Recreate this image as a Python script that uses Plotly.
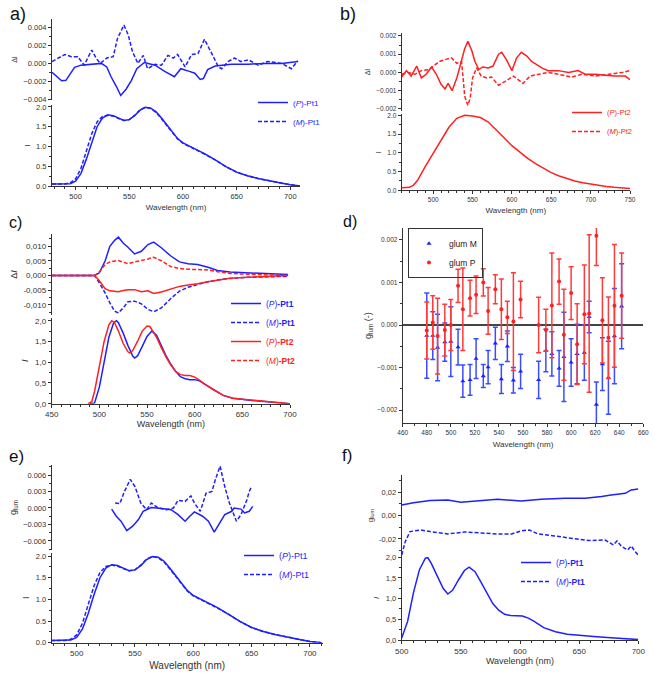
import plotly.graph_objects as go

W, H = 655, 677
BLUE = "#1f1fff"
RED = "#ff2020"
DASH = "4px,2px"

# ---------------- data ----------------
# panel a / e : emission of Pt1
wl_pt1 = [478, 490, 495, 500, 505, 510, 515, 520, 525, 530, 535, 540, 545, 550, 555, 560, 565, 570, 575,
          580, 585, 590, 595, 600, 610, 620, 630, 640, 650, 660, 670, 680, 690, 700, 710]
i_pt1_p = [0.05, 0.05, 0.06, 0.12, 0.32, 0.68, 1.12, 1.50, 1.72, 1.80, 1.78, 1.72, 1.66, 1.68, 1.78, 1.92, 1.99,
           1.97, 1.88, 1.72, 1.55, 1.36, 1.20, 1.09, 0.96, 0.82, 0.66, 0.49, 0.35, 0.26, 0.19, 0.13, 0.08, 0.03, 0.0]
i_pt1_m = [0.05, 0.05, 0.08, 0.18, 0.45, 0.88, 1.32, 1.62, 1.76, 1.79, 1.77, 1.71, 1.66, 1.68, 1.79, 1.93, 1.99,
           1.96, 1.86, 1.70, 1.53, 1.34, 1.19, 1.08, 0.95, 0.81, 0.66, 0.49, 0.35, 0.26, 0.19, 0.13, 0.08, 0.03, 0.0]

# panel a : delta I
wl_a_p = [478, 487, 491, 499, 505, 515, 524, 529, 533, 538, 542, 547, 552, 557, 564, 574, 583, 592, 598, 606,
          611, 616, 619, 623, 630, 645, 661, 676, 692, 707]
di_a_p = [-0.0010, -0.00195, -0.0019, -0.00045, -0.0002, -0.0001, 0.0, -0.0004, -0.0015, -0.0026, -0.0036,
          -0.0029, -0.0019, -0.0006, 0.0001, -0.0002, -0.0009, -0.0015, -0.0006, -0.0009, -0.0011, -0.0018,
          -0.0017, -0.0007, -0.0003, -0.0001, -0.0001, 0.0, 0.0, 0.0002]
wl_a_m = [478, 484, 490, 496, 502, 508, 515, 519, 523, 529, 535, 539, 545, 549, 553, 558, 563, 567, 574, 580,
          586, 591, 595, 602, 608, 614, 620, 626, 633, 636, 642, 648, 654, 661, 670, 679, 692, 701, 707]
di_a_m = [0.0002, 0.0006, 0.0010, 0.00075, 0.00075, -0.0002, 0.0015, 0.0006, 0.0, 0.0006, 0.00075, 0.0028,
          0.0043, 0.0032, 0.0013, 0.0, 0.0009, -0.0006, -0.0001, -0.0002, 0.0009, 0.0006, 0.0010, -0.0004,
          0.0010, 0.0011, 0.0027, 0.0013, -0.0004, -0.0006, 0.0002, 0.0006, 0.0002, 0.0004, -0.0002, 0.0002,
          0.0, -0.0006, 0.0003]

# panel b : Pt2
wl_pt2 = [460, 470, 475, 480, 490, 500, 510, 520, 530, 540, 550, 560, 570, 580, 590, 600, 610, 620, 630, 640,
          650, 660, 670, 680, 690, 700, 710, 720, 730, 740, 750]
i_pt2 = [0.07, 0.08, 0.14, 0.26, 0.64, 1.00, 1.35, 1.68, 1.92, 2.00, 1.98, 1.94, 1.82, 1.62, 1.40, 1.19, 1.01,
         0.85, 0.71, 0.58, 0.47, 0.38, 0.31, 0.25, 0.20, 0.16, 0.13, 0.10, 0.08, 0.06, 0.05]
wl_b_p = [460, 466, 472, 479, 485, 491, 498, 504, 510, 515, 519, 524, 530, 536, 540, 544, 549, 553, 558, 563,
          570, 576, 583, 587, 593, 600, 606, 612, 619, 625, 631, 638, 646, 659, 672, 684, 693, 706, 718, 731,
          744, 750]
di_b_p = [-0.00025, 0.0001, -0.0002, 0.00035, -0.0003, -0.0001, 0.0003, -0.0001, -0.00065, -0.0009, -0.0006,
          -0.0010, -0.0003, 0.0006, 0.0013, 0.0017, 0.0012, 0.0006, 0.00016, 0.0003, 0.00025, 0.00035, 0.0010,
          0.0011, 0.0007, 0.0001, 0.0008, 0.0011, 0.0009, 0.0006, 0.00045, 0.00025, 0.0001, 0.0001, 0.0,
          0.0001, -0.0001, -0.0001, -0.00015, -0.0002, -0.0002, -0.0004]
wl_b_m = [460, 468, 477, 485, 494, 502, 508, 515, 523, 530, 536, 538, 540, 544, 547, 550, 555, 561, 568, 574,
          583, 591, 602, 614, 623, 634, 646, 659, 676, 689, 706, 723, 740, 750]
di_b_m = [-0.0001, 0.0, -0.0001, 0.0001, 0.00015, 0.0004, 0.0006, 0.0007, 0.0008, 0.0005, 0.0006, -0.0003,
          -0.0013, -0.0018, -0.0014, -0.0003, 0.00025, -0.0002, -0.0003, -0.00025, -0.0007, -0.0005, -0.0002,
          -0.0006, -0.0002, -0.0001, 0.0, -0.0001, -0.00025, -0.0001, -0.0002, -0.0001, 0.0, 0.0001]

# panel c
wl_c_pt1 = [490, 495, 500, 505, 510, 515, 518, 520, 525, 530, 535, 537, 540, 545, 550, 555, 560, 565, 570, 575,
            580, 585, 590, 595, 600, 605, 610, 620, 630, 640, 650, 660, 670, 680, 690, 700]
i_c_pt1 = [0.0, 0.02, 0.40, 1.00, 1.60, 1.95, 2.00, 1.95, 1.70, 1.40, 1.15, 1.10, 1.15, 1.38, 1.62, 1.75, 1.65,
           1.40, 1.15, 0.95, 0.78, 0.65, 0.60, 0.58, 0.58, 0.55, 0.48, 0.33, 0.20, 0.13, 0.10, 0.08, 0.06, 0.04,
           0.02, 0.0]
wl_c_pt2 = [488, 492, 495, 500, 505, 510, 513, 516, 520, 525, 530, 532, 535, 540, 545, 550, 553, 556, 560, 565,
            570, 575, 580, 585, 590, 595, 600, 605, 610, 620, 630, 640, 650, 660, 670, 680, 690, 700]
i_c_pt2 = [0.0, 0.05, 0.30, 0.90, 1.50, 1.90, 2.00, 1.95, 1.75, 1.45, 1.25, 1.22, 1.28, 1.50, 1.75, 1.87, 1.86,
           1.75, 1.60, 1.35, 1.12, 0.93, 0.78, 0.70, 0.68, 0.68, 0.64, 0.57, 0.48, 0.33, 0.20, 0.13, 0.11, 0.09,
           0.07, 0.05, 0.02, 0.0]
wl_c_d = [450, 470, 490, 495, 500, 506, 511, 516, 520, 525, 530, 537, 544, 551, 557, 565, 575, 584, 593, 603,
          614, 624, 637, 656, 677, 698]
di_c_p1 = [0.0, 0.0, 0.0, 0.0, 0.0009, 0.0049, 0.0099, 0.0119, 0.0130, 0.0110, 0.0096, 0.0073, 0.0082, 0.0105,
           0.0113, 0.0094, 0.0066, 0.0046, 0.0040, 0.0037, 0.0028, 0.0017, 0.0012, 0.0009, 0.0006, 0.0003]
di_c_m1 = [0.0, 0.0, 0.0, 0.0, -0.0025, -0.0059, -0.0093, -0.0121, -0.0127, -0.0110, -0.0089, -0.0087, -0.0096,
           -0.0115, -0.0123, -0.0110, -0.0078, -0.0053, -0.0040, -0.0031, -0.0021, -0.0015, -0.0010, -0.0006,
           -0.0005, -0.0003]
di_c_m2 = [0.0, 0.0, 0.0, 0.0, 0.0012, 0.0037, 0.0046, 0.0049, 0.0051, 0.0045, 0.0040, 0.0046, 0.0050, 0.0056,
           0.0062, 0.0050, 0.0030, 0.0024, 0.0021, 0.0020, 0.0019, 0.0013, 0.0007, 0.0004, 0.0002, 0.0]
di_c_p2 = [0.0, 0.0, 0.0, 0.0, -0.0018, -0.0045, -0.0052, -0.0055, -0.0055, -0.0051, -0.0048, -0.0048, -0.0055,
           -0.0052, -0.0061, -0.0056, -0.0045, -0.0037, -0.0032, -0.0028, -0.0021, -0.0015, -0.0009, -0.0006,
           -0.0003, 0.0]

# panel d : glum with error bars
wl_d = [480, 485, 489, 495, 500, 506, 510, 516, 521, 527, 531, 537, 542, 547, 552, 558, 573, 579, 584, 590,
        594, 600, 605, 611, 615, 621, 626, 631, 636, 642]
glum_m = [-0.00025, -0.00025, -0.00053, -0.0004, -0.00039, -0.00052, -0.00132, -0.00129, -0.00079, -0.0012,
          -0.00099, -0.00043, -0.00127, -0.0005, -0.0013, -0.00109, -0.00129, -0.0006, -0.00068, -0.00102,
          -0.00075, -0.00088, -0.00068, -0.00065, 0.00019, -0.00187, -0.00092, -0.00124, -0.00026, 0.00044]
glum_m_err = [0.001, 0.00056, 0.00078, 0.00045, 0.00082, 0.00042, 0.00038, 0.00036, 0.00047, 0.00027, 0.00039,
              0.00038, 0.00034, 0.00036, 0.0003, 0.0004, 0.00044, 0.0005, 0.00052, 0.00042, 0.00105, 0.00056,
              0.0007, 0.00065, 0.00037, 0.00053, 0.00062, 0.00086, 0.00112, 0.001]
glum_p = [-0.00013, 0.00006, -0.00026, -0.00012, 0.0, 0.00092, 0.00037, 0.00063, 0.00071, 0.001, 0.00033,
          0.00084, 0.00037, 0.00018, 0.00008, 0.0006, 0.0, -0.00012, 0.00046, 0.00102, -0.00023, 0.00075,
          -0.00045, 0.00025, 0.00027, 0.0021, 0.00011, -0.0003, 0.00045, 0.00069]
glum_p_err = [0.00067, 0.00063, 0.00089, 0.00061, 0.0006, 0.00039, 0.00097, 0.00042, 0.00044, 0.00032, 0.00055,
              0.00034, 0.00071, 0.00038, 0.00115, 0.00043, 0.00065, 0.00049, 0.00123, 0.00053, 0.00107, 0.00062,
              0.00095, 0.00116, 0.00185, 0.0007, 0.001, 0.00096, 0.00144, 0.001]

# panel e : glum of Pt1
wl_e_p = [530, 534, 538, 543, 548, 553, 557, 564, 573, 581, 587, 593, 597, 601, 608, 613, 618, 623, 627, 633,
          635, 641, 644, 648, 651]
g_e_p = [-0.0002, -0.0015, -0.0024, -0.0041, -0.0033, -0.0021, -0.0006, 0.0001, -0.0001, -0.0003, -0.0012,
         -0.0024, -0.0015, -0.0007, -0.0015, -0.0024, -0.0044, -0.0027, -0.0012, -0.0006, 0.0, -0.0002, -0.0009,
         -0.0006, 0.0003]
wl_e_m = [533, 537, 541, 546, 550, 555, 560, 564, 570, 577, 583, 587, 593, 598, 601, 606, 611, 616, 619, 623,
          627, 631, 637, 641, 646, 648, 650]
g_e_m = [0.0009, 0.0008, 0.0030, 0.0052, 0.0039, 0.0009, -0.0003, 0.0009, 0.0, -0.0003, 0.0, 0.0014, 0.0012,
         0.0022, 0.0009, -0.0006, 0.0027, 0.0030, 0.0052, 0.0076, 0.0039, 0.0009, -0.0024, -0.0012, 0.0015,
         0.0030, 0.0039]

# panel f
wl_f = [500, 505, 510, 515, 520, 522, 525, 530, 535, 539, 543, 548, 553, 557, 562, 567, 572, 577, 582, 587,
        592, 597, 602, 607, 612, 620, 630, 640, 650, 665, 680, 690, 700]
i_f = [0.05, 0.45, 1.15, 1.70, 1.98, 1.99, 1.85, 1.55, 1.25, 1.11, 1.20, 1.45, 1.68, 1.76, 1.65, 1.40, 1.12,
       0.88, 0.72, 0.62, 0.59, 0.59, 0.58, 0.53, 0.45, 0.30, 0.20, 0.14, 0.11, 0.08, 0.05, 0.03, 0.01]
wl_f_p = [500, 510, 524, 539, 550, 565, 581, 601, 618, 638, 655, 669, 677, 689, 694, 700]
g_f_p = [0.0091, 0.0111, 0.0129, 0.0134, 0.0114, 0.0129, 0.0140, 0.0126, 0.0140, 0.0149, 0.0149, 0.0163,
         0.0177, 0.0191, 0.0220, 0.0229]
wl_f_m = [500, 503, 507, 516, 524, 539, 553, 567, 581, 593, 601, 608, 615, 629, 643, 658, 672, 679, 682, 686,
          691, 694, 698, 700]
g_f_m = [-0.0337, -0.0223, -0.0137, -0.0123, -0.0137, -0.0157, -0.0140, -0.0151, -0.0157, -0.0157, -0.0131,
         -0.0123, -0.0157, -0.0174, -0.0194, -0.0214, -0.0209, -0.0251, -0.0217, -0.0266, -0.0294, -0.0260,
         -0.0317, -0.0337]

# tick labels with decimal comma (panels c and f)
c_up_vals = [-0.010, -0.005, 0.0, 0.005, 0.010]
c_up_text = ["-0,010", "-0,005", "0,000", "0,005", "0,010"]
i_vals = [0.0, 0.5, 1.0, 1.5, 2.0]
i_text_comma = ["0,0", "0,5", "1,0", "1,5", "2,0"]
f_up_vals = [-0.02, 0.0, 0.02]
f_up_text = ["-0,02", "0,00", "0,02"]

# ---------------- layout helpers ----------------
FONT = "Arial, Liberation Sans, sans-serif"


def xd(p0, p1):
    return [p0 / W, p1 / W]


def yd(top, bot):
    return [1 - bot / H, 1 - top / H]


def axis_common(**kw):
    d = dict(showline=True, linecolor="#333", linewidth=1, ticks="outside", ticklen=3, tickwidth=1,
             tickcolor="#333", showgrid=False, zeroline=False, tickfont=dict(size=7.5, color="#333", family=FONT),
             automargin=False)
    d.update(kw)
    return d


fig = go.Figure()


def line(x, y, ax, color, dash=None, name=None, legend=None, showlegend=False):
    fig.add_trace(go.Scatter(x=x, y=y, mode="lines", xaxis="x" + ax, yaxis="y" + ax,
                             line=dict(color=color, width=1.5, dash=dash or "solid"),
                             name=name, legend=legend, showlegend=showlegend, hoverinfo="skip"))


# panel a
line(wl_a_p, di_a_p, "", BLUE, name="(<i>P</i>)-Pt1", legend="legend", showlegend=True)
line(wl_a_m, di_a_m, "", BLUE, DASH, name="(<i>M</i>)-Pt1", legend="legend", showlegend=True)
line(wl_pt1, i_pt1_m, "2", BLUE, DASH)
line(wl_pt1, i_pt1_p, "2", BLUE)
# panel b
line(wl_b_p, di_b_p, "3", RED, name="(<i>P</i>)-Pt2", legend="legend2", showlegend=True)
line(wl_b_m, di_b_m, "3", RED, DASH, name="(<i>M</i>)-Pt2", legend="legend2", showlegend=True)
line(wl_pt2, i_pt2, "4", RED)
# panel c
line(wl_c_d, di_c_p1, "5", BLUE, name="<span style='color:%s'>(<i>P</i>)<b>-Pt1</b></span>" % BLUE,
     legend="legend3", showlegend=True)
line(wl_c_d, di_c_m1, "5", BLUE, DASH, name="<span style='color:%s'>(<i>M</i>)<b>-Pt1</b></span>" % BLUE,
     legend="legend3", showlegend=True)
line(wl_c_d, di_c_p2, "5", RED, name="<span style='color:%s'>(<i>P</i>)<b>-Pt2</b></span>" % RED,
     legend="legend3", showlegend=True)
line(wl_c_d, di_c_m2, "5", RED, DASH, name="<span style='color:%s'>(<i>M</i>)<b>-Pt2</b></span>" % RED,
     legend="legend3", showlegend=True)
line(wl_c_pt1, i_c_pt1, "6", BLUE)
line(wl_c_pt2, i_c_pt2, "6", RED)
# panel d
fig.add_trace(go.Scatter(x=wl_d, y=glum_m, mode="markers", xaxis="x7", yaxis="y7", name="glum M",
                         legend="legend4", marker=dict(symbol="triangle-up", size=4.5, color=BLUE),
                         error_y=dict(type="data", array=glum_m_err, color="#3a4cff", thickness=1.5, width=2.5)))
fig.add_trace(go.Scatter(x=wl_d, y=glum_p, mode="markers", xaxis="x7", yaxis="y7", name="glum P",
                         legend="legend4", marker=dict(symbol="circle", size=4, color=RED),
                         error_y=dict(type="data", array=glum_p_err, color="#ff3a3a", thickness=1.5, width=2.5)))
# panel e
line(wl_e_p, g_e_p, "8", BLUE, name="(<i>P</i>)-Pt1", legend="legend5", showlegend=True)
line(wl_e_m, g_e_m, "8", BLUE, DASH, name="(<i>M</i>)-Pt1", legend="legend5", showlegend=True)
line(wl_pt1, i_pt1_m, "9", BLUE, DASH)
line(wl_pt1, i_pt1_p, "9", BLUE)
# panel f
line(wl_f_p, g_f_p, "10", BLUE, name="(<i>P</i>)<b>-Pt1</b>", legend="legend6", showlegend=True)
line(wl_f_m, g_f_m, "10", BLUE, DASH, name="(<i>M</i>)<b>-Pt1</b>", legend="legend6", showlegend=True)
line(wl_f, i_f, "11", BLUE)

TF = dict(size=9, color="#333", family=FONT)
TFs = dict(size=8, color="#333", family=FONT)


def ytitle(t, size=8, standoff=4):
    return dict(text=t, font=dict(size=size, color="#333", family=FONT), standoff=standoff)


def mnr(dt):
    return dict(ticks="outside", ticklen=2, dtick=dt, tickcolor="#333")


def tf(s):
    return dict(size=s, color="#333", family=FONT)


lay = dict(
    width=W, height=H, margin=dict(l=0, r=0, t=0, b=0), paper_bgcolor="white", plot_bgcolor="rgba(0,0,0,0)",
    font=dict(family=FONT), showlegend=True, hovermode=False,
    # panel a
    xaxis=axis_common(domain=xd(52, 300), range=[478, 709], visible=False, anchor="y"),
    yaxis=axis_common(domain=yd(19, 100), range=[-0.00411, 0.00498], anchor="x", tickmode="linear",
                      tick0=-0.004, dtick=0.002, tickformat=".3f", title=ytitle("ΔI", 7), minor=mnr(0.001)),
    xaxis2=axis_common(domain=xd(52, 300), range=[478, 709], anchor="y2", tickmode="linear", tick0=500, dtick=50,
                       title=dict(text="Wavelength (nm)", font=TFs, standoff=4), minor=mnr(10)),
    yaxis2=axis_common(domain=yd(105, 186), range=[0, 2.05], anchor="x2", tickmode="linear", tick0=0, dtick=0.5,
                       tickformat=".1f", title=ytitle("I", 8), minor=mnr(0.25)),
    # panel b
    xaxis3=axis_common(domain=xd(401.7, 630), range=[460, 750], visible=False, anchor="y3"),
    yaxis3=axis_common(domain=yd(33, 111), range=[-0.00211, 0.00216], anchor="x3", tickmode="linear",
                       tick0=-0.002, dtick=0.001, tickformat=".3f", title=ytitle("ΔI", 7),
                       tickfont=tf(6.5), minor=mnr(0.0005)),
    xaxis4=axis_common(domain=xd(401.7, 630), range=[460, 750], anchor="y4", tickmode="linear", tick0=500, dtick=50,
                       tickfont=tf(6.5), title=dict(text="Wavelength (nm)", font=TFs, standoff=5), minor=mnr(10)),
    yaxis4=axis_common(domain=yd(114, 190.3), range=[0, 2.035], anchor="x4", tickmode="linear", tick0=0, dtick=0.5,
                       tickformat=".1f", title=ytitle("I", 7), tickfont=tf(6.5), minor=mnr(0.25)),
    # panel c
    xaxis5=axis_common(domain=xd(51.7, 290), range=[450, 700], visible=False, anchor="y5"),
    yaxis5=axis_common(domain=yd(234, 315), range=[-0.0134, 0.01407], anchor="x5", tickmode="array",
                       tickvals=c_up_vals, ticktext=c_up_text, title=ytitle("Δ<i>I</i>", 9),
                       tickfont=tf(8), minor=mnr(0.0025)),
    xaxis6=axis_common(domain=xd(51.7, 290), range=[450, 700], anchor="y6", tickmode="linear", tick0=450, dtick=50,
                       tickfont=tf(8), title=dict(text="Wavelength (nm)", font=TF, standoff=2), minor=mnr(10)),
    yaxis6=axis_common(domain=yd(318, 403.7), range=[0, 2.065], anchor="x6", tickmode="array", tickvals=i_vals,
                       ticktext=i_text_comma, title=ytitle("<i>I</i>", 9), tickfont=tf(8), minor=mnr(0.25)),
    # panel d
    xaxis7=axis_common(domain=xd(402.7, 643.3), range=[460, 660], anchor="y7", tickmode="linear", tick0=460,
                       dtick=20, tickfont=tf(6.5), title=dict(text="Wavelength (nm)", font=TFs, standoff=6),
                       minor=mnr(10)),
    yaxis7=axis_common(domain=yd(228, 423.3), range=[-0.00231, 0.00228], anchor="x7", tickmode="linear",
                       tick0=-0.002, dtick=0.001, tickformat=".3f", tickfont=tf(6.5),
                       title=ytitle("g<sub>lum</sub> (-)", 9), zeroline=True, zerolinecolor="#444",
                       zerolinewidth=1.3, minor=mnr(0.0005)),
    # panel e
    xaxis8=axis_common(domain=xd(51.7, 322.7), range=[478.6, 711], visible=False, anchor="y8"),
    yaxis8=axis_common(domain=yd(465, 550), range=[-0.00764, 0.00782], anchor="x8", tickmode="linear",
                       tick0=-0.006, dtick=0.003, tickformat=".3f", title=ytitle("g<sub>lum</sub>", 9),
                       minor=mnr(0.0015)),
    xaxis9=axis_common(domain=xd(51.7, 322.7), range=[478.6, 711], anchor="y9", tickmode="linear", tick0=500,
                       dtick=50, tickfont=tf(8),
                       title=dict(text="Wavelength (nm)", font=dict(size=10, color="#333", family=FONT), standoff=4),
                       minor=mnr(10)),
    yaxis9=axis_common(domain=yd(553, 642.7), range=[0, 2.07], anchor="x9", tickmode="linear", tick0=0, dtick=0.5,
                       tickformat=".1f", title=ytitle("I", 9), minor=mnr(0.25)),
    # panel f
    xaxis10=axis_common(domain=xd(401.7, 638.3), range=[500, 700], visible=False, anchor="y10"),
    yaxis10=axis_common(domain=yd(475, 556), range=[-0.0346, 0.0348], anchor="x10", tickmode="array",
                        tickvals=f_up_vals, ticktext=f_up_text, title=ytitle("g<sub>lum</sub>", 8), minor=mnr(0.01)),
    xaxis11=axis_common(domain=xd(401.7, 638.3), range=[500, 700], anchor="y11", tickmode="linear", tick0=500,
                        dtick=50, tickfont=tf(8), title=dict(text="Wavelength (nm)", font=TF, standoff=2),
                        minor=mnr(10)),
    yaxis11=axis_common(domain=yd(556, 640), range=[0, 2.03], anchor="x11", tickmode="array", tickvals=i_vals,
                        ticktext=i_text_comma, title=ytitle("<i>I</i>", 8), minor=mnr(0.25)),
)


def leg(x, ytop, size=8, color=BLUE, **kw):
    d = dict(x=x / W, y=1 - ytop / H, xanchor="left", yanchor="top", bgcolor="rgba(0,0,0,0)",
             font=dict(size=size, color=color, family=FONT), itemwidth=30, tracegroupgap=0)
    d.update(kw)
    return d


lay["legend"] = leg(253, 88)
lay["legend2"] = leg(567, 98, size=7.5, color=RED)
lay["legend3"] = leg(226, 289, size=8.5)
lay["legend4"] = leg(408, 228, size=8.5, color="#222", bordercolor="#333", borderwidth=1, itemwidth=30)
lay["legend5"] = leg(239, 541, size=9)
lay["legend6"] = leg(516, 548, size=8.5)

fig.update_layout(**lay)

labels = [("a)", 8, 2, 18), ("b)", 338, 2, 18), ("c)", 7, 212, 16), ("d)", 341, 211, 16), ("e)", 7, 445, 17),
          ("f)", 340, 444, 17)]
for t, px, py, fs in labels:
    fig.add_annotation(text=t, x=px / W, y=1 - py / H, xref="paper", yref="paper", xanchor="left",
                       yanchor="top", showarrow=False, font=dict(size=fs, color="#111", family=FONT))

fig.write_html("out.html", config={"displayModeBar": False, "staticPlot": True},
               post_script="document.body.style.margin='0px';document.body.style.overflow='hidden';")
